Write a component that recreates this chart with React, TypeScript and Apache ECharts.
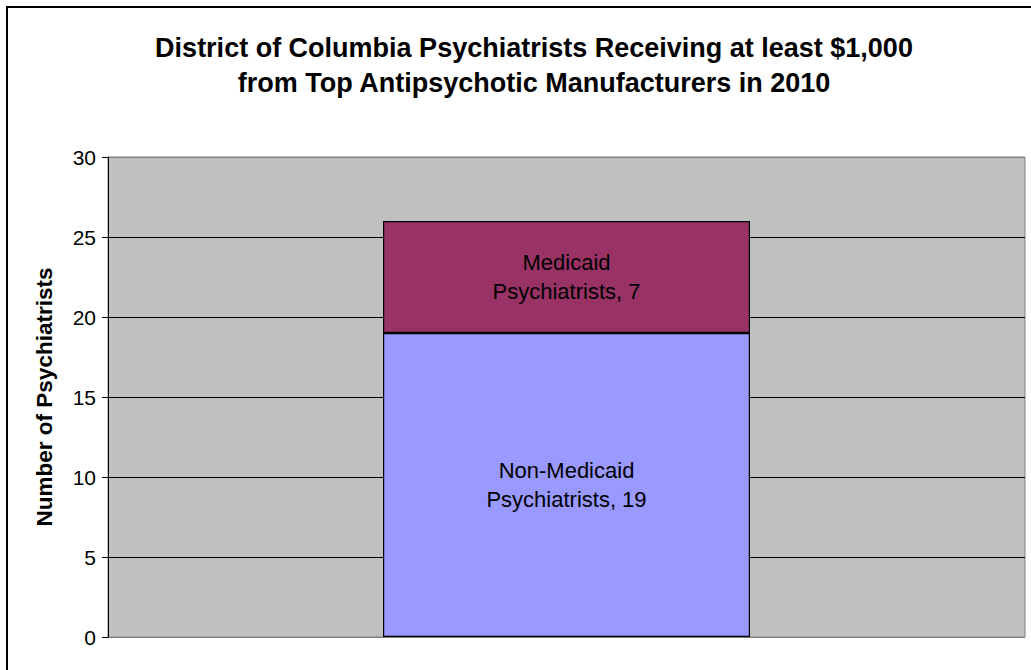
import React, { useEffect, useRef } from "react";
import * as echarts from "echarts";

const categories = ["2010"];
const nonMedicaid = [19];
const medicaid = [7];
const seriesNames = ["Non-Medicaid\nPsychiatrists", "Medicaid\nPsychiatrists"];
const titleText = "District of Columbia Psychiatrists Receiving at least $1,000\nfrom Top Antipsychotic Manufacturers in 2010";
const yAxisName = "Number of Psychiatrists";

export default function App() {
  const ref = useRef<HTMLDivElement>(null);
  useEffect(() => {
    if (!ref.current) return;
    const chart = echarts.init(ref.current, undefined, { renderer: "svg" });
    const font = "Liberation Sans, Arial, sans-serif";
    const mkLabel = (name: string) => ({
      show: true,
      position: "inside",
      formatter: (p: any) => `${name}, ${p.value}`,
      color: "#000",
      fontSize: 22,
      fontFamily: font,
      lineHeight: 29,
    });
    chart.setOption({
      animation: false,
      backgroundColor: "#fff",
      title: {
        text: titleText,
        left: 529,
        textAlign: "center",
        top: 25,
        textStyle: { fontSize: 27, fontWeight: "bold", fontFamily: font, color: "#000", lineHeight: 35 },
      },
      graphic: [
        {
          type: "rect",
          shape: { x: 7, y: 7, width: 1040, height: 680 },
          style: { fill: "none", stroke: "#000", lineWidth: 2 },
          silent: true,
        },
      ],
      grid: {
        left: 108,
        right: 6,
        top: 157,
        bottom: 33,
        show: true,
        backgroundColor: "#C0C0C0",
        borderColor: "#808080",
        borderWidth: 1,
      },
      xAxis: {
        type: "category",
        data: categories,
        axisLine: { show: false },
        axisTick: { show: false },
        axisLabel: { show: false },
      },
      yAxis: {
        type: "value",
        min: 0,
        max: 30,
        interval: 5,
        name: yAxisName,
        nameLocation: "middle",
        nameGap: 52,
        nameTextStyle: { fontSize: 22.5, fontWeight: "bold", fontFamily: font, color: "#000" },
        axisLine: { show: true, lineStyle: { color: "#000", width: 1 } },
        axisTick: { show: true, length: 6, lineStyle: { color: "#000" } },
        axisLabel: { fontSize: 21, fontFamily: font, color: "#000", margin: 12 },
        splitLine: {
          show: true,
          lineStyle: { color: ["#808080", "#000", "#000", "#000", "#000", "#000", "#808080"], width: 1 },
        },
      },
      series: [
        {
          name: seriesNames[0],
          type: "bar",
          stack: "total",
          data: nonMedicaid,
          barWidth: 367,
          itemStyle: { color: "#9999FF", borderColor: "#000", borderWidth: 1.2 },
          label: mkLabel(seriesNames[0]),
        },
        {
          name: seriesNames[1],
          type: "bar",
          stack: "total",
          data: medicaid,
          barWidth: 367,
          itemStyle: { color: "#993366", borderColor: "#000", borderWidth: 1.2 },
          label: mkLabel(seriesNames[1]),
        },
      ],
    });
    return () => chart.dispose();
  }, []);
  return (
    <div
      ref={ref}
      style={{ position: "fixed", left: 0, top: 0, width: 1031, height: 670 }}
    />
  );
}
